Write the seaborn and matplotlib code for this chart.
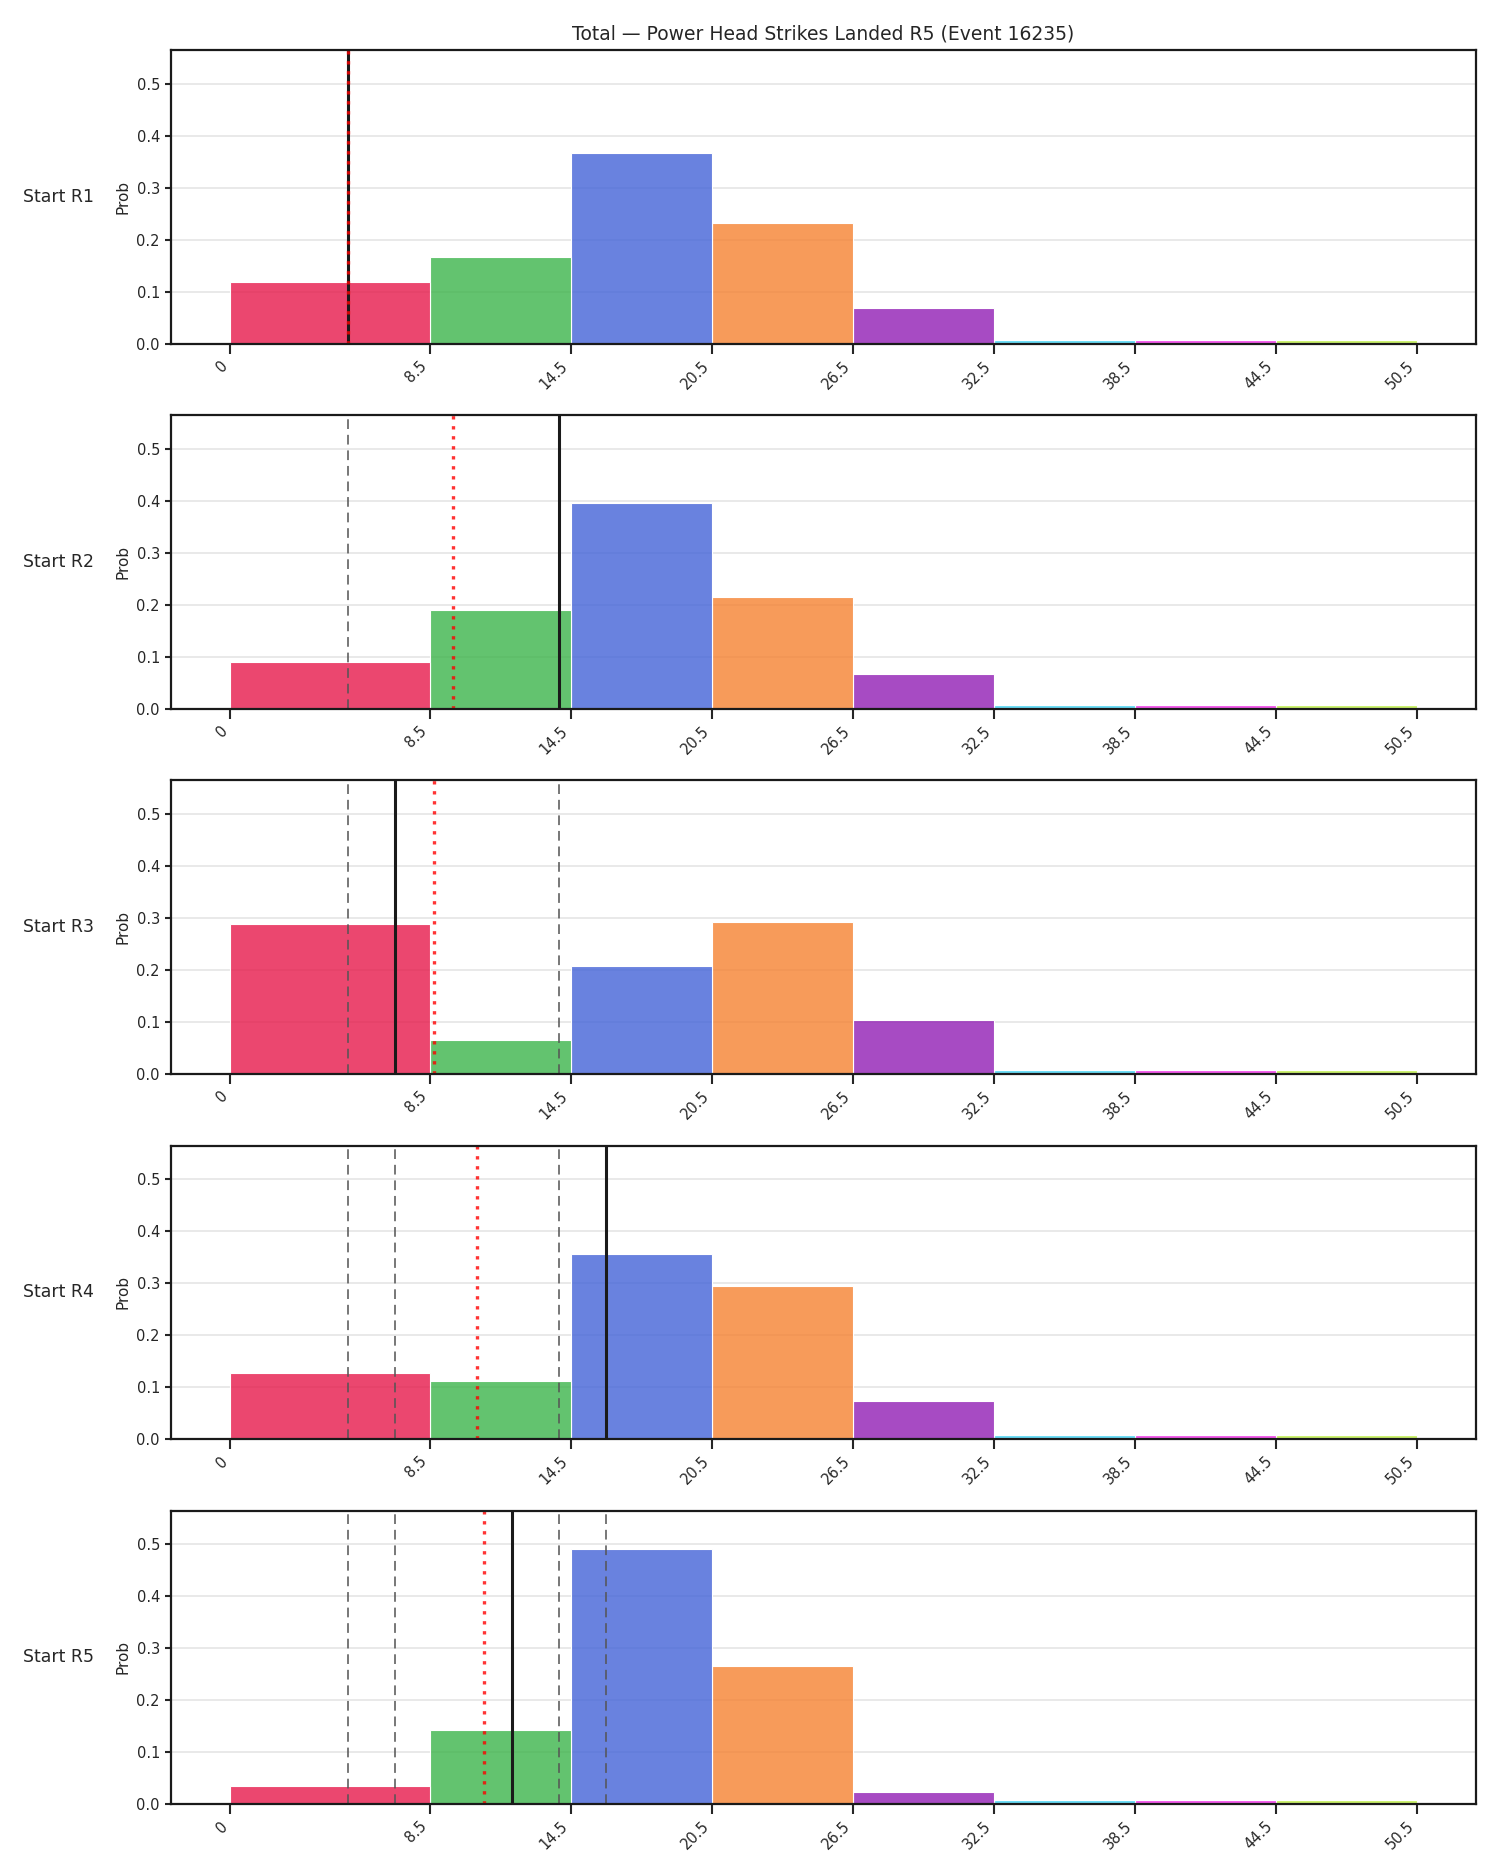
import numpy as np
import pandas as pd
import matplotlib
matplotlib.use("Agg")
import matplotlib.pyplot as plt
import seaborn as sns

# ---------------- data ----------------
bin_edges = [0, 8.5, 14.5, 20.5, 26.5, 32.5, 38.5, 44.5, 50.5]
tick_labels = ["0", "8.5", "14.5", "20.5", "26.5", "32.5", "38.5", "44.5", "50.5"]
bin_names = ["0-8", "9-14", "15-20", "21-26", "27-32", "33-38", "39-44", "45-50"]
bar_colors = ["#e6194b", "#3cb44b", "#4363d8", "#f58231",
              "#911eb4", "#42d4f4", "#f032e6", "#bfef45"]
row_labels = ["Start R1", "Start R2", "Start R3", "Start R4", "Start R5"]

probs_r1 = [0.119, 0.167, 0.367, 0.232, 0.069, 0.007, 0.007, 0.007]
probs_r2 = [0.090, 0.190, 0.395, 0.215, 0.067, 0.007, 0.007, 0.007]
probs_r3 = [0.289, 0.065, 0.208, 0.293, 0.103, 0.007, 0.007, 0.007]
probs_r4 = [0.127, 0.112, 0.355, 0.295, 0.072, 0.007, 0.007, 0.007]
probs_r5 = [0.034, 0.142, 0.491, 0.266, 0.023, 0.007, 0.007, 0.007]
all_probs = [probs_r1, probs_r2, probs_r3, probs_r4, probs_r5]

round_values = [5, 14, 7, 16, 12]

title = "Total \u2014 Power Head Strikes Landed R5 (Event 16235)"

# ---------------- style ----------------
sns.set_theme(style="ticks")
plt.rcParams["font.family"] = ["DejaVu Sans"]

fig, axes = plt.subplots(5, 1, figsize=(15, 18.75), dpi=100, sharey=True)
fig.subplots_adjust(left=0.114, right=0.984, top=0.9732, bottom=0.0379, hspace=0.2446)

mids = [(bin_edges[i] + bin_edges[i + 1]) / 2 for i in range(len(bin_edges) - 1)]
span = bin_edges[-1] - bin_edges[0]
ymax = max(max(p) for p in all_probs) * 1.15

for r, ax in enumerate(axes):
    df = pd.DataFrame({"mid": mids, "prob": all_probs[r], "bin": bin_names})
    sns.histplot(data=df, x="mid", weights="prob", bins=bin_edges, hue="bin",
                 hue_order=bin_names, palette=bar_colors, alpha=0.8,
                 edgecolor="white", linewidth=0.8, legend=False,
                 multiple="layer", ax=ax)
    ax.set_axisbelow(True)
    ax.grid(axis="y", color="#e5e5e5", linewidth=1.2)
    ax.grid(axis="x", visible=False)

    # previous rounds (dashed)
    for v in round_values[:r]:
        ax.axvline(v, color="#555555", linestyle=(0, (5, 3)), linewidth=1.4, alpha=0.8)
    # current round (solid)
    ax.axvline(round_values[r], color="#1a1a1a", linewidth=2.2)
    # running mean (dotted red)
    running_mean = float(np.mean(round_values[: r + 1]))
    ax.axvline(running_mean, color="red", linestyle=(0, (1, 2)), linewidth=2.4, alpha=0.8)

    ax.set_xlim(bin_edges[0] - 0.05 * span, bin_edges[-1] + 0.05 * span)
    ax.set_ylim(0, ymax)
    ax.set_xticks(bin_edges)
    ax.set_xticklabels(tick_labels, rotation=45, ha="right", fontsize=10.5)
    ax.set_yticks([0.0, 0.1, 0.2, 0.3, 0.4, 0.5])
    ax.tick_params(axis="y", labelsize=10.5, length=4.5, width=1.5, labelleft=True)
    ax.tick_params(axis="x", length=7, width=1.5)
    ax.set_xlabel("")
    ax.set_ylabel("Prob", fontsize=11)
    for s in ax.spines.values():
        s.set_visible(True)
        s.set_linewidth(1.6)
        s.set_color("#1a1a1a")
    ax.text(-0.1134, 0.5, row_labels[r], transform=ax.transAxes,
            ha="left", va="center", fontsize=12.5)

axes[0].set_title(title, fontsize=13.5, pad=8)

fig.savefig("out.png", dpi=100)
